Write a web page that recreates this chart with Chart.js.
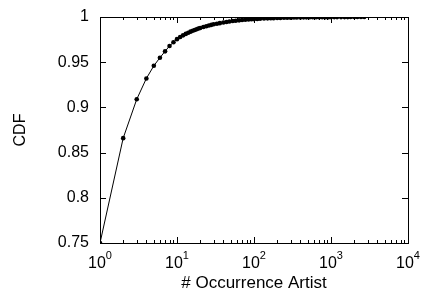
<!DOCTYPE html>
<html>
<head>
<meta charset="utf-8">
<script src="https://cdn.jsdelivr.net/npm/chart.js@4/dist/chart.umd.min.js"></script>
<style>
  body { margin: 0; background: #fff; }
  canvas { display: block; }
</style>
</head>
<body>
<canvas id="cdfChart" width="425" height="300"></canvas>
<script>
// # occurrences of an artist (x) and cumulative fraction (y)
const occurrences = [1, 2, 3, 4, 5, 6, 7, 8, 9, 10,
    11, 12, 13, 14, 15, 16, 17, 18, 19, 20,
    22, 24, 26, 28, 30, 33, 36, 40, 44, 48,
    53, 58, 64, 70, 77, 85, 93, 100, 110, 120,
    135, 150, 165, 180, 200, 220, 245, 270, 300, 330,
    360, 400, 440, 480, 530, 580, 640, 700, 770, 850,
    930, 1000, 1100, 1200, 1350, 1500, 1650, 1800, 2000, 2200,
    2450, 2700];
const cdf = [0.750, 0.866, 0.909, 0.932, 0.946, 0.955, 0.962, 0.968, 0.972, 0.9755,
    0.9778, 0.9797, 0.9813, 0.9826, 0.9838, 0.9848, 0.9857, 0.9865, 0.9872, 0.9878,
    0.9889, 0.9898, 0.9906, 0.9913, 0.9919, 0.9926, 0.9932, 0.9939, 0.9945, 0.9950,
    0.9955, 0.9959, 0.9963, 0.9966, 0.9969, 0.9972, 0.9975, 0.9977, 0.9979, 0.9981,
    0.9983, 0.9985, 0.9986, 0.9987, 0.9989, 0.9990, 0.9991, 0.9992, 0.9993, 0.9994,
    0.9994, 0.9995, 0.9996, 0.9996, 0.9997, 0.9997, 0.9997, 0.9998, 0.9998, 0.9998,
    0.9998, 0.9999, 0.9999, 0.9999, 0.9999, 0.9999, 0.9999, 1.0, 1.0, 1.0,
    1.0, 1.0];
const xTickExponents = [0, 1, 2, 3, 4];
const yTicks = [0.75, 0.8, 0.85, 0.9, 0.95, 1];

const FONT = '"Liberation Sans", Arial, Helvetica, sans-serif';
Chart.defaults.font.family = FONT;
Chart.defaults.font.size = 16;
Chart.defaults.color = '#000';

// frame with inward ticks on all four sides + 10^n labels
const framePlugin = {
    id: 'frame',
    afterDraw(chart) {
        const ctx = chart.ctx;
        const area = chart.chartArea;
        const xs = chart.scales.x;
        const ys = chart.scales.y;
        ctx.save();
        ctx.strokeStyle = '#000';
        ctx.lineWidth = 1;
        ctx.strokeRect(area.left + 0.5, area.top + 0.5, area.right - area.left, area.bottom - area.top);

        ctx.beginPath();
        xTickExponents.forEach((e, i) => {
            const base = Math.pow(10, e);
            const px = Math.round(xs.getPixelForValue(base)) + 0.5;
            ctx.moveTo(px, area.bottom); ctx.lineTo(px, area.bottom - 6);
            ctx.moveTo(px, area.top); ctx.lineTo(px, area.top + 6);
            if (i < xTickExponents.length - 1) {
                for (let m = 2; m <= 9; m++) {
                    const mx = Math.round(xs.getPixelForValue(base * m)) + 0.5;
                    ctx.moveTo(mx, area.bottom); ctx.lineTo(mx, area.bottom - 3);
                    ctx.moveTo(mx, area.top); ctx.lineTo(mx, area.top + 3);
                }
            }
        });
        yTicks.forEach(v => {
            const py = Math.round(ys.getPixelForValue(v)) + 0.5;
            ctx.moveTo(area.left, py); ctx.lineTo(area.left + 6, py);
            ctx.moveTo(area.right, py); ctx.lineTo(area.right - 6, py);
        });
        ctx.stroke();

        // x tick labels as 10 with superscript exponent
        ctx.fillStyle = '#000';
        ctx.textBaseline = 'alphabetic';
        ctx.textAlign = 'left';
        const big = '16px ' + FONT;
        const small = '11px ' + FONT;
        xTickExponents.forEach(e => {
            const px = xs.getPixelForValue(Math.pow(10, e));
            ctx.font = big;
            const w1 = ctx.measureText('10').width;
            ctx.font = small;
            const w2 = ctx.measureText(String(e)).width;
            const x0 = px - (w1 + w2) / 2;
            ctx.font = big;
            ctx.fillText('10', x0, area.bottom + 25);
            ctx.font = small;
            ctx.fillText(String(e), x0 + w1, area.bottom + 16);
        });
        ctx.restore();
    }
};

const ctx = document.getElementById('cdfChart').getContext('2d');
const cdfChart = new Chart(ctx, {
    type: 'line',
    data: {
        datasets: [{
            label: 'CDF',
            data: occurrences.map((x, i) => ({ x: x, y: cdf[i] })),
            borderColor: '#000',
            backgroundColor: '#000',
            borderWidth: 1,
            pointRadius: 2.3,
            pointBorderWidth: 0,
            pointBackgroundColor: '#000',
            tension: 0
        }]
    },
    options: {
        responsive: false,
        animation: false,
        layout: { padding: { left: 0, right: 17, top: 17, bottom: 0 } },
        plugins: {
            legend: { display: false },
            tooltip: { enabled: false }
        },
        scales: {
            x: {
                type: 'logarithmic',
                min: 1,
                max: 10000,
                grid: { display: false },
                border: { display: false },
                ticks: { display: false },
                title: { display: true, text: '# Occurrence Artist', font: { size: 17, family: FONT }, padding: { top: 0, bottom: 6 } },
                afterFit: (s) => { s.height = 57; }
            },
            y: {
                min: 0.75,
                max: 1,
                grid: { display: false },
                border: { display: false },
                ticks: {
                    stepSize: 0.05,
                    padding: 3,
                    font: { size: 16, family: FONT },
                    callback: (v) => String(Number(v.toFixed(2)))
                },
                title: { display: true, text: 'CDF', font: { size: 16, family: FONT }, padding: { top: 11, bottom: 0 } },
                afterFit: (s) => { s.width = 100; }
            }
        }
    },
    plugins: [framePlugin]
});
</script>
</body>
</html>
